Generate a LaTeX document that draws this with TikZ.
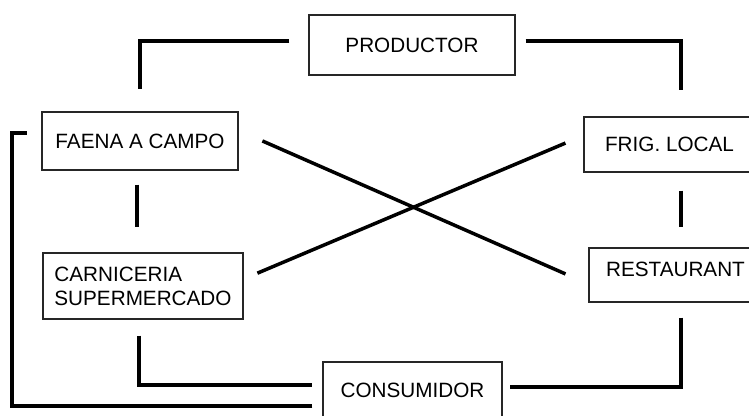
\documentclass[tikz,border=0pt]{standalone}
\usepackage{fontspec}
\setmainfont{Liberation Sans}
\usepackage{tikz}
\usetikzlibrary{positioning,calc}
\tikzset{
  % 基础盒子
  box/.style={
    draw=black!85,
    line width=1.2pt,
    inner sep=0pt,
    font=\fontsize{20.7}{24}\selectfont
  },
  % 连线样式
  conn/.style={line width=4pt, black},
}

\begin{document}
\begin{tikzpicture}[x=1pt, y=-1pt]
    \useasboundingbox (0,0) rectangle (749,415);
    \clip (0,0) rectangle (749,415);

    % Nodes
    \node[box, minimum width=206pt, minimum height=60pt] (prod) at (412,45) {PRODUCTOR};
    \node[box, minimum width=196pt, minimum height=58pt] (faena) at (140,141) {FAENA A CAMPO};
    \node[box, minimum width=171pt, minimum height=55pt] (frig) at (669.5,144.5) {FRIG. LOCAL};
    \node[box, minimum width=200pt, minimum height=66pt, align=left] (carn) at (143,286) {CARNICERIA\\SUPERMERCADO};
    \node[box, minimum width=173pt, minimum height=54pt, text depth=11pt] (rest) at (675.5,275) {RESTAURANT};
    \node[box, minimum width=179pt, minimum height=56pt] (cons) at (412.5,390) {CONSUMIDOR};
    \coordinate (lft) at (12,0);

    % Top connectors
    \draw[conn, shorten <=19pt, shorten >=22pt] ([yshift=4pt]prod.west) -| (faena.north);
    \draw[conn, shorten <=10pt, shorten >=26pt] ([yshift=4pt]prod.east) -| ([xshift=11.5pt]frig.north);

    % Vertical links
    \draw[conn, shorten <=14pt, shorten >=25pt] ([xshift=-3pt]faena.south) -- ([xshift=-3pt]faena.south |- carn.north);
    \draw[conn, shorten <=18pt, shorten >=20pt] ([xshift=11.5pt]frig.south) -- ([xshift=11.5pt]frig.south |- rest.north);

    % Cross
    \draw[conn, line width=3.5pt, shorten <=26pt, shorten >=25pt] ([yshift=10.5pt]faena.east) -- ([yshift=-9pt]rest.west);
    \draw[conn, line width=3.5pt, shorten <=19.5pt, shorten >=15pt] ([yshift=9pt]frig.west) -- ([yshift=7pt]carn.east);

    % Bottom connectors
    \draw[conn, shorten <=16pt, shorten >=10pt] ([xshift=-4pt]carn.south) |- ([yshift=5pt]cons.west);
    \draw[conn, shorten <=15pt, shorten >=7pt] ([xshift=5.5pt]rest.south) |- ([yshift=3pt]cons.east);
    \draw[conn, shorten <=10pt, shorten >=14pt] ([yshift=-16pt]cons.west) -- ([yshift=-16pt]cons.west -| lft) |- ([yshift=8pt]faena.west);
\end{tikzpicture}
\end{document}
